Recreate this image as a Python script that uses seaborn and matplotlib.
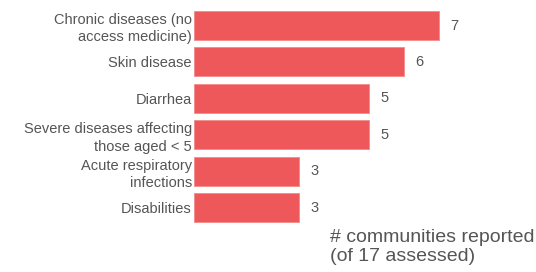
import matplotlib
matplotlib.use("Agg")
import matplotlib.pyplot as plt
import seaborn as sns
import pandas as pd

categories = ["Chronic diseases (no\naccess medicine)", "Skin disease", "Diarrhea",
              "Severe diseases affecting\nthose aged < 5", "Acute respiratory\ninfections", "Disabilities"]
values = [7, 6, 5, 5, 3, 3]
note = "# communities reported\n(of 17 assessed)"

sns.set_theme(style="white")
plt.rcParams['font.family'] = ['Liberation Sans', 'DejaVu Sans']

W, H = 536, 272
fig = plt.figure(figsize=(W / 100, H / 100), dpi=100)
ax = fig.add_axes([194 / W, 0, 1 - 194 / W, 1])

df = pd.DataFrame({"cat": categories, "val": values})
sns.barplot(data=df, x="val", y="cat", orient="h", color="#ef585a", saturation=1,
            width=0.8, edgecolor="#f28a8a", linewidth=0.6, ax=ax)

ax.set_xlim(0, (W - 194) / 35)
ax.set_ylim((272 - 25.5) / 36.4, -25.5 / 36.4)
for s in ax.spines.values():
    s.set_visible(False)
ax.set_xticks([])
ax.set_xlabel("")
ax.set_ylabel("")
ax.tick_params(axis="y", length=0, pad=1.5)
for t in ax.get_yticklabels():
    t.set_fontsize(10.5)
    t.set_color("#555555")
    t.set_linespacing(1.3)
    t.set_horizontalalignment("right")
    t.set_multialignment("right")

for i, v in enumerate(values):
    ax.annotate(str(v), xy=(v, i), xytext=(11, 0), textcoords="offset pixels",
                ha="left", va="center", fontsize=10.5, color="#555555")

fig.text(330 / W, 1 - 247 / H, note, ha="left", va="center", fontsize=14,
         color="#555555", linespacing=1.15)

fig.savefig("out.png", dpi=100)
